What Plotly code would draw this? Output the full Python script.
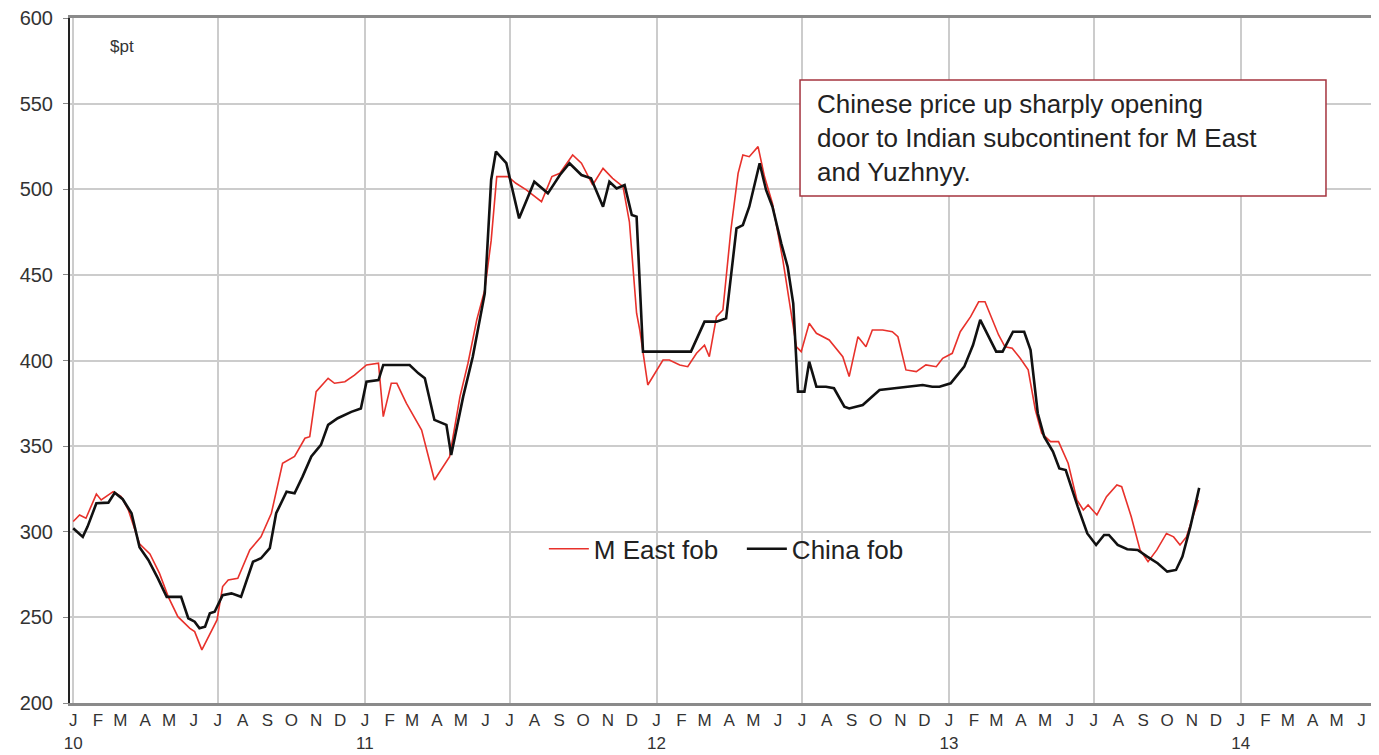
import plotly.graph_objects as go

# ---- data ----
china_dates = [
    "2010-01-01", "2010-01-13", "2010-01-19", "2010-01-30", "2010-02-14", "2010-02-22", "2010-03-04",
    "2010-03-15", "2010-03-25", "2010-04-05", "2010-04-17", "2010-04-28", "2010-05-16", "2010-05-25",
    "2010-06-02", "2010-06-08", "2010-06-15", "2010-06-21", "2010-06-27", "2010-07-07", "2010-07-18",
    "2010-07-30", "2010-08-14", "2010-08-24", "2010-09-04", "2010-09-12", "2010-09-25", "2010-10-05",
    "2010-10-15", "2010-10-26", "2010-11-07", "2010-11-16", "2010-11-28", "2010-12-15", "2010-12-27",
    "2011-01-03", "2011-01-18", "2011-01-24", "2011-02-26", "2011-03-09", "2011-03-17", "2011-03-29",
    "2011-04-13", "2011-04-19", "2011-05-04", "2011-05-16", "2011-05-31", "2011-06-08", "2011-06-14",
    "2011-06-27", "2011-07-13", "2011-07-22", "2011-08-01", "2011-08-18", "2011-09-02", "2011-09-14",
    "2011-09-29", "2011-10-11", "2011-10-26", "2011-11-03", "2011-11-12", "2011-11-22", "2011-12-01",
    "2011-12-07", "2011-12-15", "2012-02-13", "2012-03-01", "2012-03-16", "2012-03-28", "2012-04-10",
    "2012-04-18", "2012-04-26", "2012-05-09", "2012-05-17", "2012-05-25", "2012-06-05", "2012-06-13",
    "2012-06-20", "2012-06-26", "2012-07-04", "2012-07-10", "2012-07-19", "2012-07-31", "2012-08-10",
    "2012-08-23", "2012-08-29", "2012-09-15", "2012-10-06", "2012-10-27", "2012-11-29", "2012-12-11",
    "2012-12-20", "2013-01-03", "2013-01-20", "2013-01-31", "2013-02-09", "2013-03-01", "2013-03-09",
    "2013-03-22", "2013-04-05", "2013-04-13", "2013-04-22", "2013-04-30", "2013-05-11", "2013-05-19",
    "2013-05-27", "2013-06-11", "2013-06-23", "2013-07-04", "2013-07-14", "2013-07-20", "2013-07-31",
    "2013-08-12", "2013-08-25", "2013-09-06", "2013-09-19", "2013-10-01", "2013-10-12", "2013-10-20",
    "2013-10-30", "2013-11-10",
]
china_fob = [
    302, 297, 303, 316.6, 317, 322.8, 319,
    310.8, 291, 283.5, 272.8, 262, 262, 249.5,
    247.5, 243.6, 244.6, 252.4, 253.3, 263, 264,
    262, 282.5, 284.5, 290.4, 310.8, 323.4, 322.5,
    332.2, 344, 350.7, 362.4, 366.3, 370, 372,
    387.6, 388.6, 397.4, 397.4, 392.5, 389.6, 365.3,
    362.4, 344.8, 378.9, 402.2, 439.2, 505.4, 522,
    515.2, 483, 492.7, 504.4, 497.6, 508.3, 515.2,
    508.3, 506.4, 489.8, 504.4, 500.5, 502.5, 485,
    484, 405.2, 405.2, 422.7, 422.7, 424.6, 477.2,
    479.1, 489.8, 515.2, 499.6, 489.8, 468.4, 454.8,
    433.4, 381.8, 381.8, 399.3, 384.7, 384.7, 383.8,
    373, 372, 374, 382.8, 383.8, 385.7, 384.7,
    384.7, 386.7, 396.4, 409, 423.7, 405.2, 405.2,
    416.8, 416.8, 406.1, 369.2, 355.5, 346.8, 337,
    336, 314.7, 299, 292.3, 298.1, 298.1, 292.3,
    289.8, 289.4, 285.5, 281.6, 276.7, 277.7, 285.5,
    303, 325.6,
]

meast_dates = [
    "2010-01-01", "2010-01-09", "2010-01-17", "2010-01-30", "2010-02-05", "2010-02-20", "2010-03-02",
    "2010-03-11", "2010-03-25", "2010-04-07", "2010-04-19", "2010-04-30", "2010-05-12", "2010-05-27",
    "2010-06-02", "2010-06-11", "2010-06-30", "2010-07-07", "2010-07-14", "2010-07-26", "2010-08-10",
    "2010-08-24", "2010-09-06", "2010-09-20", "2010-10-05", "2010-10-18", "2010-10-24", "2010-11-01",
    "2010-11-16", "2010-11-24", "2010-12-07", "2010-12-19", "2011-01-03", "2011-01-18", "2011-01-24",
    "2011-02-03", "2011-02-10", "2011-02-22", "2011-03-13", "2011-03-29", "2011-04-17", "2011-04-30",
    "2011-05-10", "2011-05-21", "2011-05-31", "2011-06-08", "2011-06-15", "2011-06-29", "2011-07-09",
    "2011-07-22", "2011-08-10", "2011-08-23", "2011-09-02", "2011-09-18", "2011-09-29", "2011-10-13",
    "2011-10-26", "2011-11-07", "2011-11-20", "2011-11-28", "2011-12-07", "2011-12-11", "2011-12-21",
    "2012-01-09", "2012-01-17", "2012-01-30", "2012-02-09", "2012-02-20", "2012-03-01", "2012-03-07",
    "2012-03-16", "2012-03-24", "2012-04-03", "2012-04-12", "2012-04-18", "2012-04-26", "2012-05-07",
    "2012-05-15", "2012-05-25", "2012-06-07", "2012-06-24", "2012-06-30", "2012-07-10", "2012-07-19",
    "2012-08-04", "2012-08-21", "2012-08-29", "2012-09-09", "2012-09-19", "2012-09-27", "2012-10-10",
    "2012-10-22", "2012-10-29", "2012-11-08", "2012-11-21", "2012-12-03", "2012-12-16", "2012-12-24",
    "2013-01-05", "2013-01-15", "2013-01-28", "2013-02-07", "2013-02-15", "2013-03-04", "2013-03-12",
    "2013-03-21", "2013-03-31", "2013-04-10", "2013-04-19", "2013-04-27", "2013-05-08", "2013-05-18",
    "2013-05-30", "2013-06-10", "2013-06-18", "2013-06-24", "2013-07-05", "2013-07-17", "2013-07-30",
    "2013-08-05", "2013-08-17", "2013-08-28", "2013-09-07", "2013-09-18", "2013-09-30", "2013-10-09",
    "2013-10-17", "2013-10-25", "2013-11-09",
]
meast_fob = [
    306, 309.8, 307.9, 322, 318.6, 323.4, 320.5,
    312.7, 293, 287, 275.7, 262, 250.4, 243.6,
    241.7, 231, 248.5, 268, 271.8, 272.8, 289.4,
    297, 310.8, 340, 344, 354.6, 355.5, 381.8,
    389.6, 386.7, 387.6, 391.5, 397.4, 398.4, 367.2,
    386.7, 386.7, 375, 359.4, 330.2, 343.8, 378.9,
    398.4, 423.7, 441.2, 470, 507.4, 507.4, 503.5,
    499.6, 492.7, 507.4, 509.3, 520, 515.2, 502.5,
    512.2, 506.4, 501.5, 481, 427.6, 417.8, 385.7,
    400.3, 400.3, 397.4, 396.4, 404.2, 409, 402.2,
    425.6, 429.5, 476.2, 509.3, 520, 519, 524.9,
    507.4, 491.7, 458.7, 408, 405.2, 421.7, 415.9,
    412, 402.2, 390.6, 413.9, 408, 417.8, 417.8,
    416.8, 413.9, 394.5, 393.5, 397.4, 396.4, 401.3,
    404.2, 416.8, 425.6, 434.3, 434.3, 414.9, 408,
    407.1, 401.3, 394.5, 371.1, 357.5, 352.6, 352.6,
    340, 318.6, 312.7, 315.6, 309.8, 320.5, 327.3,
    326.3, 308.8, 289.4, 282.5, 289.4, 299, 297,
    292.3, 297, 318.6,
]

month_letters = ["J", "F", "M", "A", "M", "J", "J", "A", "S", "O", "N", "D"]
years = [2010, 2011, 2012, 2013, 2014]
y_ticks = [200, 250, 300, 350, 400, 450, 500, 550, 600]
unit_label = "$pt"
note_text = "Chinese price up sharply opening<br>door to Indian subcontinent for M East<br>and Yuzhnyy."

# ---- axis tick labels ----
tick_vals, tick_text = [], []
for yr in years:
    for m, letter in enumerate(month_letters, start=1):
        if yr == 2014 and m > 6:
            break
        tick_vals.append(f"{yr}-{m:02d}-01")
        tick_text.append(f"{letter}<br>{str(yr)[2:]}" if m == 1 else letter)

x_range = ["2009-12-28", "2014-06-23"]
FONT = "Liberation Sans, Arial, sans-serif"

fig = go.Figure()
fig.add_trace(go.Scatter(x=meast_dates, y=meast_fob, mode="lines", name="M East fob",
                         line=dict(color="#e8312b", width=1.6)))
fig.add_trace(go.Scatter(x=china_dates, y=china_fob, mode="lines", name="China fob",
                         line=dict(color="#111111", width=2.6)))
# empty helper trace so the half-year gridline axis is drawn
fig.add_trace(go.Scatter(x=x_range, y=[None, None], xaxis="x2", mode="lines",
                         showlegend=False, hoverinfo="skip"))

fig.update_layout(
    width=1371, height=747,
    margin=dict(l=62, r=0, t=10, b=52),
    paper_bgcolor="white", plot_bgcolor="white",
    font=dict(family=FONT, color="#333333"),
    showlegend=True,
    legend=dict(orientation="h", x=0.362, y=0.225, xanchor="left", yanchor="middle",
                font=dict(size=26, color="#222222"), bgcolor="rgba(0,0,0,0)",
                itemwidth=40, tracegroupgap=0, entrywidth=143, entrywidthmode="pixels"),
    xaxis=dict(type="date", range=x_range, tickmode="array", tickvals=tick_vals, ticktext=tick_text,
               showgrid=False, showline=True, linecolor="#8a8a8a", linewidth=3, mirror=True,
               ticks="", tickfont=dict(size=17, color="#333333"), tickangle=0, zeroline=False,
               ticklabeloverflow="allow"),
    xaxis2=dict(type="date", range=x_range, overlaying="x", matches="x", anchor="y", dtick="M6",
                tick0="2010-01-01", showgrid=True, gridcolor="#cccccc", gridwidth=1.5,
                showticklabels=False, ticks="", showline=False, zeroline=False),
    yaxis=dict(range=[200, 600], tickvals=y_ticks, showgrid=True, gridcolor="#cccccc", gridwidth=1.5,
               showline=True, linecolor="#222222", linewidth=2, ticks="outside", ticklen=5,
               tickcolor="#888888", tickfont=dict(size=20, color="#333333"), zeroline=False,
               ticklabelstandoff=6, ticklabeloverflow="allow"),
)

fig.add_annotation(xref="paper", yref="paper", x=0.029, y=0.958, text=unit_label, showarrow=False,
                   xanchor="left", yanchor="middle", font=dict(size=17, color="#333333"))

fig.add_shape(type="rect", xref="paper", yref="paper", x0=0.5577, x1=0.9595, y0=0.740, y1=0.9095,
              line=dict(color="#a5343f", width=1.5), fillcolor="white", layer="above")
fig.add_annotation(xref="paper", yref="paper", x=0.5695, y=0.899, text=note_text, showarrow=False,
                   xanchor="left", yanchor="top", align="left",
                   font=dict(size=26, color="#222222"))

fig.write_html("out.html")
